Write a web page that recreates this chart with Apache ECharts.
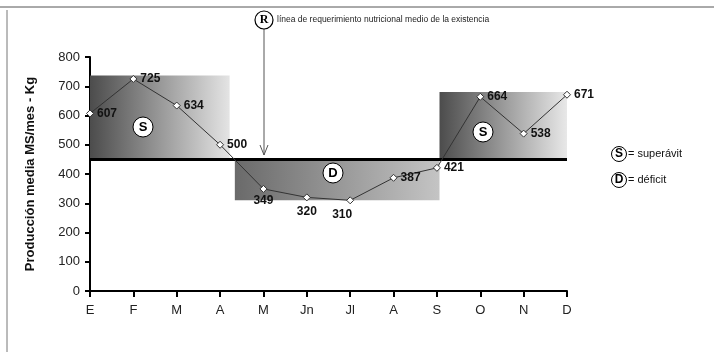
<!DOCTYPE html>
<html><head><meta charset="utf-8">
<script src="https://cdn.jsdelivr.net/npm/echarts@6/dist/echarts.min.js"></script>
<style>html,body{margin:0;padding:0;background:#fff}#c{width:714px;height:355px}</style>
</head><body><div id="c"></div>
<script>
const months = ['E','F','M','A','M','Jn','Jl','A','S','O','N','D'];
const produccion = [607,725,634,500,349,320,310,387,421,664,538,671];
const yTicks = [0,100,200,300,400,500,600,700,800];
const requerimiento = 450;
// zones: [xStart, xEnd (month index units), yFrom, yTo]
const zonaS1 = [0, 3.22, 450, 737];
const zonaD = [3.34, 8.06, 310, 450];
const zonaS2 = [8.06, 11, 450, 680];

const chart = echarts.init(document.getElementById('c'));
const grad = (a,b)=>new echarts.graphic.LinearGradient(0,0,1,0,[{offset:0,color:a},{offset:1,color:b}]);
const belowIdx = [4,5,6];
const data = produccion.map((v,i)=>({
  value:[i,v],
  label:belowIdx.includes(i)?{position:'bottom',distance:i===4?2:4,offset:[i===6?-8:0,0]}:{position:'right',distance:3}
}));
const Z = 100;
chart.setOption({
  animation:false,
  grid:{left:90,right:147,top:57,bottom:64},
  xAxis:{type:'value',min:0,max:months.length-1,interval:1,
    axisLine:{lineStyle:{color:'#000',width:2}},
    axisTick:{length:6,lineStyle:{color:'#000',width:2}},
    axisLabel:{formatter:v=>months[v],color:'#222',fontSize:13,fontFamily:'Liberation Sans',margin:13},
    splitLine:{show:false}},
  yAxis:{type:'value',min:yTicks[0],max:yTicks[yTicks.length-1],interval:100,
    name:'Producción media MS/mes - Kg',nameLocation:'middle',nameRotate:90,nameGap:53,
    nameTextStyle:{fontSize:13,fontWeight:'bold',color:'#111',fontFamily:'Liberation Sans'},
    axisLine:{show:true,lineStyle:{color:'#000',width:2}},
    axisTick:{show:true,length:5,lineStyle:{color:'#000',width:2}},
    axisLabel:{color:'#222',fontSize:13,fontFamily:'Liberation Sans',margin:10},
    splitLine:{show:false}},
  series:[{
    type:'line',data:data,symbol:'diamond',symbolSize:7,
    lineStyle:{color:'#333',width:1},
    itemStyle:{color:'#fff',borderColor:'#333',borderWidth:1},
    label:{show:true,formatter:p=>p.value[1],fontWeight:'bold',fontSize:12,color:'#111',fontFamily:'Liberation Sans'},
    z:5,
    markArea:{silent:true,data:[
      [{coord:[zonaS1[0],zonaS1[3]],itemStyle:{color:grad('#4c4c4c','#e4e4e4')}},{coord:[zonaS1[1],zonaS1[2]]}],
      [{coord:[zonaD[0],zonaD[3]],itemStyle:{color:grad('#6a6a6a','#c4c4c4')}},{coord:[zonaD[1],zonaD[2]]}],
      [{coord:[zonaS2[0],zonaS2[3]],itemStyle:{color:grad('#4c4c4c','#e8e8e8')}},{coord:[zonaS2[1],zonaS2[2]]}]
    ]},
    markLine:{silent:true,symbol:'none',label:{show:false},lineStyle:{color:'#000',width:3,type:'solid'},
      data:[{yAxis:requerimiento}]}
  }],
  graphic:[
    {type:'line',z:Z,shape:{x1:0,y1:7,x2:714,y2:7},style:{stroke:'#555',lineWidth:1}},
    {type:'line',z:Z,shape:{x1:7,y1:10,x2:7,y2:352},style:{stroke:'#777',lineWidth:1}},
    // R annotation
    {type:'line',z:Z,shape:{x1:264,y1:29,x2:264,y2:155},style:{stroke:'#555',lineWidth:1}},
    {type:'polyline',z:Z,shape:{points:[[260,145],[264,155],[268,145]]},style:{stroke:'#555',fill:null,lineWidth:1}},
    {type:'circle',z:Z,shape:{cx:264,cy:20,r:9},style:{fill:'#fff',stroke:'#000',lineWidth:1.2}},
    {type:'text',z:Z+1,x:264,y:20,style:{text:'R',fontWeight:'bold',fontSize:12,fontFamily:'Liberation Serif',fill:'#000',align:'center',verticalAlign:'middle'}},
    {type:'text',z:Z,x:277,y:20,style:{text:'línea de requerimiento nutricional medio de la existencia',fontSize:8.5,fontFamily:'Liberation Sans',fill:'#222',verticalAlign:'middle'}},
    // zone letters
    {type:'circle',z:Z,shape:{cx:143,cy:127,r:10},style:{fill:'#fff',stroke:'#000',lineWidth:1}},
    {type:'text',z:Z+1,x:143,y:127,style:{text:'S',fontWeight:'bold',fontSize:13,fontFamily:'Liberation Sans',fill:'#000',align:'center',verticalAlign:'middle'}},
    {type:'circle',z:Z,shape:{cx:333,cy:173,r:10},style:{fill:'#fff',stroke:'#000',lineWidth:1}},
    {type:'text',z:Z+1,x:333,y:173,style:{text:'D',fontWeight:'bold',fontSize:13,fontFamily:'Liberation Sans',fill:'#000',align:'center',verticalAlign:'middle'}},
    {type:'circle',z:Z,shape:{cx:483,cy:132,r:10},style:{fill:'#fff',stroke:'#000',lineWidth:1}},
    {type:'text',z:Z+1,x:483,y:132,style:{text:'S',fontWeight:'bold',fontSize:13,fontFamily:'Liberation Sans',fill:'#000',align:'center',verticalAlign:'middle'}},
    // legend
    {type:'circle',z:Z,shape:{cx:619,cy:154,r:7.5},style:{fill:'#fff',stroke:'#000',lineWidth:1}},
    {type:'text',z:Z+1,x:619,y:154,style:{text:'S',fontWeight:'bold',fontSize:12,fontFamily:'Liberation Sans',fill:'#000',align:'center',verticalAlign:'middle'}},
    {type:'text',z:Z,x:628,y:154,style:{text:'= superávit',fontSize:11,fontFamily:'Liberation Sans',fill:'#111',verticalAlign:'middle'}},
    {type:'circle',z:Z,shape:{cx:619,cy:180,r:7.5},style:{fill:'#fff',stroke:'#000',lineWidth:1}},
    {type:'text',z:Z+1,x:619,y:180,style:{text:'D',fontWeight:'bold',fontSize:12,fontFamily:'Liberation Sans',fill:'#000',align:'center',verticalAlign:'middle'}},
    {type:'text',z:Z,x:628,y:180,style:{text:'= déficit',fontSize:11,fontFamily:'Liberation Sans',fill:'#111',verticalAlign:'middle'}}
  ]
});
</script></body></html>
